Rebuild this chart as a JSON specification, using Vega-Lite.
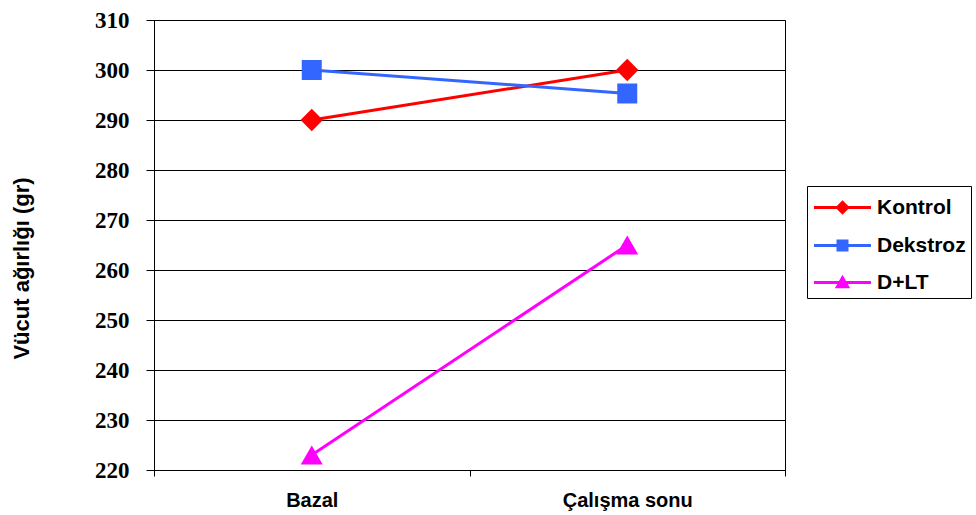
{
  "$schema": "https://vega.github.io/schema/vega-lite/v6.json",
  "width": 631,
  "height": 450,
  "autosize": "none",
  "padding": {"left": 154, "top": 20, "right": 191, "bottom": 45},
  "background": "white",
  "config": {
    "view": {"stroke": "black", "strokeWidth": 1},
    "axis": {"domainColor": "black", "tickColor": "black", "labelColor": "black", "titleColor": "black"}
  },
  "data": {
    "values": [
      {"group": "Kontrol", "phase": "Bazal", "weight": 290},
      {"group": "Kontrol", "phase": "Çalışma sonu", "weight": 300},
      {"group": "Dekstroz", "phase": "Bazal", "weight": 300},
      {"group": "Dekstroz", "phase": "Çalışma sonu", "weight": 295.3},
      {"group": "D+LT", "phase": "Bazal", "weight": 223},
      {"group": "D+LT", "phase": "Çalışma sonu", "weight": 265}
    ]
  },
  "encoding": {
    "x": {
      "field": "phase",
      "type": "nominal",
      "scale": {"type": "band", "domain": ["Bazal", "Çalışma sonu"], "paddingInner": 0, "paddingOuter": 0},
      "axis": {
        "title": null,
        "labelAngle": 0,
        "tickBand": "extent",
        "tickSize": 6,
        "labelFont": "Liberation Sans",
        "labelFontWeight": "bold",
        "labelFontSize": 20,
        "labelPadding": 14,
        "grid": false
      }
    },
    "y": {
      "field": "weight",
      "type": "quantitative",
      "scale": {"domain": [220, 310], "nice": false, "zero": false},
      "axis": {
        "title": "Vücut ağırlığı (gr)",
        "titleFont": "Liberation Sans",
        "titleFontWeight": "bold",
        "titleFontSize": 22,
        "titleX": -121,
        "titleY": 248,
        "titleBaseline": "bottom",
        "values": [220, 230, 240, 250, 260, 270, 280, 290, 300, 310],
        "tickSize": 8,
        "labelFont": "Liberation Serif",
        "labelFontWeight": "bold",
        "labelFontSize": 23,
        "labelPadding": 17,
        "grid": true,
        "gridColor": "black",
        "gridOpacity": 1,
        "gridWidth": 1
      }
    },
    "color": {
      "field": "group",
      "type": "nominal",
      "scale": {"domain": ["Kontrol", "Dekstroz", "D+LT"], "range": ["#FF0000", "#3366FF", "#FF00FF"]},
      "legend": {
        "title": null,
        "orient": "none",
        "legendX": 653,
        "legendY": 166,
        "padding": 5,
        "strokeColor": "black",
        "fillColor": "white",
        "cornerRadius": 0,
        "symbolSize": 900,
        "symbolStrokeWidth": 3,
        "symbolOffset": 14,
        "labelFont": "Liberation Sans",
        "labelFontWeight": "bold",
        "labelFontSize": 21,
        "labelColor": "black",
        "labelOffset": 18,
        "labelExpr": "datum.label + '     '",
        "rowPadding": 10,
        "encode": {
          "symbols": {
            "update": {
              "shape": {"signal": "datum.value === 'Kontrol' ? 'M-1.9,0H1.9M0,-0.34L0.34,0L0,0.34L-0.34,0Z' : datum.value === 'Dekstroz' ? 'M-1.9,0H1.9M-0.3,-0.3H0.3V0.3H-0.3Z' : 'M-1.9,0H1.9M0,-0.32L0.34,0.28H-0.34Z'"},
              "fill": {"scale": "color", "field": "value"},
              "stroke": {"scale": "color", "field": "value"},
              "strokeWidth": {"value": 3},
              "opacity": {"value": 1},
              "fillOpacity": {"value": 1},
              "strokeOpacity": {"value": 1}
            }
          }
        }
      }
    }
  },
  "layer": [
    {"mark": {"type": "line", "strokeWidth": 3}},
    {
      "transform": [{"filter": "datum.group === 'Kontrol'"}],
      "mark": {"type": "point", "shape": "diamond", "filled": true, "opacity": 1, "size": 500}
    },
    {
      "transform": [{"filter": "datum.group === 'Dekstroz'"}],
      "mark": {"type": "point", "shape": "square", "filled": true, "opacity": 1, "size": 400}
    },
    {
      "transform": [{"filter": "datum.group === 'D+LT'"}],
      "mark": {"type": "point", "shape": "triangle-up", "filled": true, "opacity": 1, "size": 480}
    }
  ]
}
